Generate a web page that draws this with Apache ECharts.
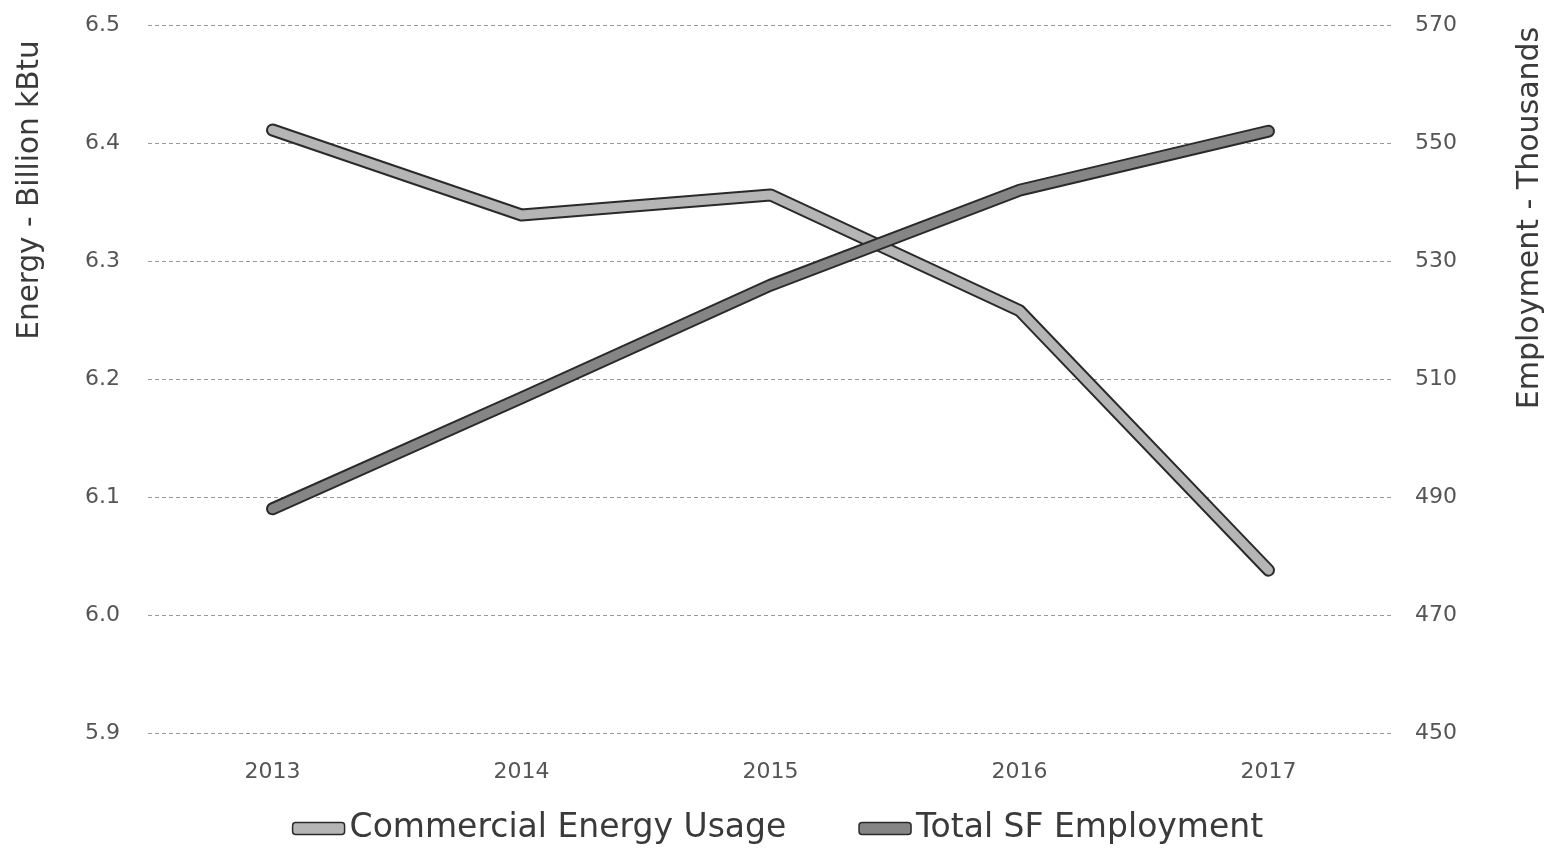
<!DOCTYPE html>
<html><head><meta charset="utf-8">
<script src="https://cdn.jsdelivr.net/npm/echarts@6/dist/echarts.min.js"></script>
<style>html,body{margin:0;padding:0;background:#fff}#c{width:1555px;height:854px}</style>
</head><body><div id="c"></div>
<script>
const years = ['2013','2014','2015','2016','2017'];
const energy = [6.411, 6.339, 6.356, 6.258, 6.038];
const employment = [488.0, 506.8, 525.9, 542.0, 552.0];
const energyName = 'Commercial Energy Usage';
const employmentName = 'Total SF Employment';
const leftTitle = 'Energy - Billion kBtu';
const rightTitle = 'Employment - Thousands';

const font = '"DejaVu Sans", sans-serif';
const chart = echarts.init(document.getElementById('c'));
function line(name, data, yIdx, color, width, z, silent) {
  return {
    name: name, type: 'line', data: data, yAxisIndex: yIdx,
    symbol: 'none', smooth: false, z: z, silent: !!silent,
    lineStyle: {color: color, width: width, cap: 'round', join: 'round'},
    itemStyle: {color: color}
  };
}
chart.setOption({
  animation: false,
  textStyle: {fontFamily: font},
  grid: {left: 148, right: 162, top: 25, bottom: 121},
  legend: {
    data: [energyName, employmentName], bottom: 4, left: 'center',
    itemWidth: 52, itemHeight: 12, itemGap: 72, icon: 'roundRect',
    itemStyle: {borderColor: '#2a2a2a', borderWidth: 1.5},
    textStyle: {fontSize: 33, color: '#3a3a3a', fontFamily: font}
  },
  xAxis: {
    type: 'category', data: years, boundaryGap: true,
    axisLine: {show: false}, axisTick: {show: false},
    axisLabel: {fontSize: 22, color: '#555', margin: 28}
  },
  yAxis: [
    {type: 'value', min: 5.9, max: 6.5, interval: 0.1, position: 'left',
     axisLine: {show: false}, axisTick: {show: false},
     axisLabel: {fontSize: 22, color: '#555', margin: 28, formatter: v => v.toFixed(1)},
     splitLine: {lineStyle: {color: '#999', type: [4, 3], width: 1}}},
    {type: 'value', min: 450, max: 570, interval: 20, position: 'right',
     axisLine: {show: false}, axisTick: {show: false},
     axisLabel: {fontSize: 22, color: '#555', margin: 22},
     splitLine: {show: false}}
  ],
  series: [
    line(energyName + ' ', energy, 0, '#2a2a2a', 13, 2, true),
    line(energyName, energy, 0, '#b5b5b5', 9, 3),
    line(employmentName + ' ', employment, 1, '#2a2a2a', 13, 4, true),
    line(employmentName, employment, 1, '#858585', 9, 5)
  ]
});
const zr = chart.getZr();
const T1 = new echarts.graphic.Text({
  style: {text: leftTitle, fontSize: 29.5, fill: '#3a3a3a', fontFamily: font, align: 'center', verticalAlign: 'middle'},
  x: 30, y: 190, rotation: Math.PI / 2
});
const T2 = new echarts.graphic.Text({
  style: {text: rightTitle, fontSize: 30, fill: '#3a3a3a', fontFamily: font, align: 'center', verticalAlign: 'middle'},
  x: 1530, y: 218, rotation: Math.PI / 2
});
zr.add(T1); zr.add(T2);
</script></body></html>
